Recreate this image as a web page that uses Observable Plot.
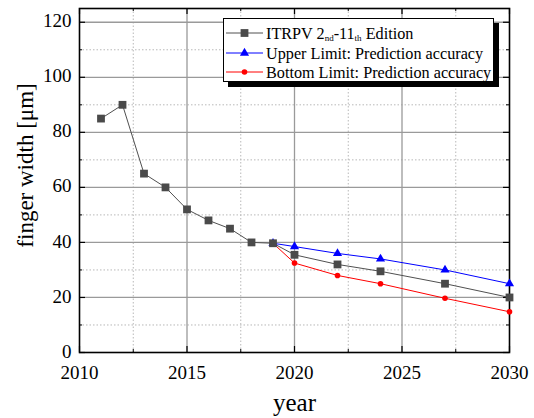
<!DOCTYPE html>
<html><head><meta charset="utf-8">
<script src="https://cdn.jsdelivr.net/npm/d3@7"></script>
<script src="https://cdn.jsdelivr.net/npm/@observablehq/plot@0.6"></script>
<style>
body{margin:0;background:#fff;}
#wrap{position:relative;width:534px;height:418px;font-family:"Liberation Serif","Times New Roman",serif;}
#legend{position:absolute;left:223px;top:18px;width:269px;height:62px;border:1px solid #000;background:#fff;box-shadow:5px 5px 0 #000;}
</style></head>
<body><div id="wrap"></div>
<script>
const itrpvYears = [2011,2012,2013,2014,2015,2016,2017,2018,2019,2020,2022,2024,2027,2030];
const itrpvValues = [85,90,65,60,52,48,45,40,39.7,35.5,32,29.5,25,20];
const limitYears = [2019,2020,2022,2024,2027,2030];
const upperValues = [39.7,38.5,36,34,30,25];
const bottomValues = [39.7,32.5,28,25,19.7,14.8];
const xTicks = [2010,2015,2020,2025,2030];
const yTicks = [0,20,40,60,80,100,120];
const xMinor = [2012.5,2017.5,2022.5,2027.5];
const yMinor = [10,30,50,70,90,110];
const seriesNames = ["ITRPV 2nd-11th Edition","Upper Limit: Prediction accuracy","Bottom Limit: Prediction accuracy"];

const itrpv = itrpvYears.map((x,i)=>({x,y:itrpvValues[i]}));
const upper = limitYears.map((x,i)=>({x,y:upperValues[i]}));
const bottom = limitYears.map((x,i)=>({x,y:bottomValues[i]}));

const W=534,H=418,ML=79,MR=25,MT=8,MB=66;
const PW=W-ML-MR, PH=H-MT-MB;
const FF="Liberation Serif";

const chart = Plot.plot({
  width:W,height:H,marginLeft:ML,marginRight:MR,marginTop:MT,marginBottom:MB,
  x:{domain:[2010,2030]},
  y:{domain:[0,125]},
  style:{fontFamily:FF,background:"#fff",color:"#000"},
  marks:[
    Plot.gridY(yMinor,{stroke:"#b8b8b8",strokeOpacity:1,strokeDasharray:"1.5,2"}),
    Plot.gridX(xMinor,{stroke:"#b8b8b8",strokeOpacity:1,strokeDasharray:"1.5,2"}),
    Plot.gridY(yTicks.filter(d=>d>0),{stroke:"#9a9a9a",strokeOpacity:1,strokeWidth:1.3}),
    Plot.gridX(xTicks.filter(d=>d>2010&&d<2030),{stroke:"#9a9a9a",strokeOpacity:1,strokeWidth:1.3}),
    Plot.axisX(xTicks,{tickSize:0,tickPadding:9,dy:4,fontSize:19,fontFamily:FF,label:null,tickFormat:d=>String(d)}),
    Plot.axisY(yTicks,{tickSize:0,tickPadding:8,dy:-1,fontSize:19,fontFamily:FF,label:null}),
    Plot.ruleY(yTicks,{stroke:"#000",strokeWidth:1.2,insetRight:PW-6}),
    Plot.ruleY(yTicks,{stroke:"#000",strokeWidth:1.2,insetLeft:PW-6}),
    Plot.ruleY(yMinor,{stroke:"#000",strokeWidth:1,insetRight:PW-3}),
    Plot.ruleY(yMinor,{stroke:"#000",strokeWidth:1,insetLeft:PW-3}),
    Plot.ruleX(xTicks,{stroke:"#000",strokeWidth:1.2,insetTop:PH-6}),
    Plot.ruleX(xTicks,{stroke:"#000",strokeWidth:1.2,insetBottom:PH-6}),
    Plot.ruleX(xMinor,{stroke:"#000",strokeWidth:1,insetTop:PH-3}),
    Plot.ruleX(xMinor,{stroke:"#000",strokeWidth:1,insetBottom:PH-3}),
    Plot.frame({stroke:"#000",strokeWidth:1.6}),
    Plot.line(itrpv,{x:"x",y:"y",stroke:"#505050",strokeWidth:1}),
    Plot.line(upper,{x:"x",y:"y",stroke:"#0000ff",strokeWidth:1}),
    Plot.line(bottom,{x:"x",y:"y",stroke:"#ff0000",strokeWidth:1}),
    Plot.dot(upper,{x:"x",y:"y",symbol:"triangle",r:3.4,fill:"#0000ff"}),
    Plot.dot(bottom,{x:"x",y:"y",symbol:"circle",r:2.8,fill:"#ff0000"}),
    Plot.dot(itrpv,{x:"x",y:"y",symbol:"square",r:4.4,fill:"#4a4a4a"}),
    Plot.text(["finger width [μm]"],{frameAnchor:"left",rotate:-90,textAnchor:"middle",lineAnchor:"middle",dx:-54,dy:-15,fontSize:23,fontFamily:FF}),
    Plot.text(["year"],{frameAnchor:"bottom",textAnchor:"middle",lineAnchor:"middle",dy:50,fontSize:25,fontFamily:FF})
  ]
});
const wrap=document.getElementById("wrap");
wrap.appendChild(chart);

// legend
const ns="http://www.w3.org/2000/svg";
const lg=document.createElement("div");lg.id="legend";
const colors=["#505050","#0000ff","#ff0000"];
const syms=["square","triangle","circle"];
const sizes=[4.4,3.4,2.8];
let svg=`<svg xmlns="${ns}" width="269" height="62" font-family="Liberation Serif">`;
const rowY=[14,34,53];
seriesNames.forEach((name,i)=>{
  const y=rowY[i];
  svg+=`<line x1="2" x2="39" y1="${y}" y2="${y}" stroke="${colors[i]}" stroke-width="1"/>`;
  const s=d3.symbol(d3["symbol"+syms[i][0].toUpperCase()+syms[i].slice(1)], Math.PI*sizes[i]*sizes[i])();
  svg+=`<path d="${s}" transform="translate(20.5,${y})" fill="${i===0?'#4a4a4a':colors[i]}"/>`;
  let label=name;
  if(i===0){
    label=`ITRPV 2<tspan font-size="9" dy="2">nd</tspan><tspan dy="-2">-11</tspan><tspan font-size="9" dy="2">th</tspan><tspan dy="-2"> Edition</tspan>`;
  }
  svg+=`<text x="42" y="${y}" dy="0.35em" font-size="16.2" fill="#000">${label}</text>`;
});
svg+=`</svg>`;
lg.innerHTML=svg;
wrap.appendChild(lg);
</script></body></html>
